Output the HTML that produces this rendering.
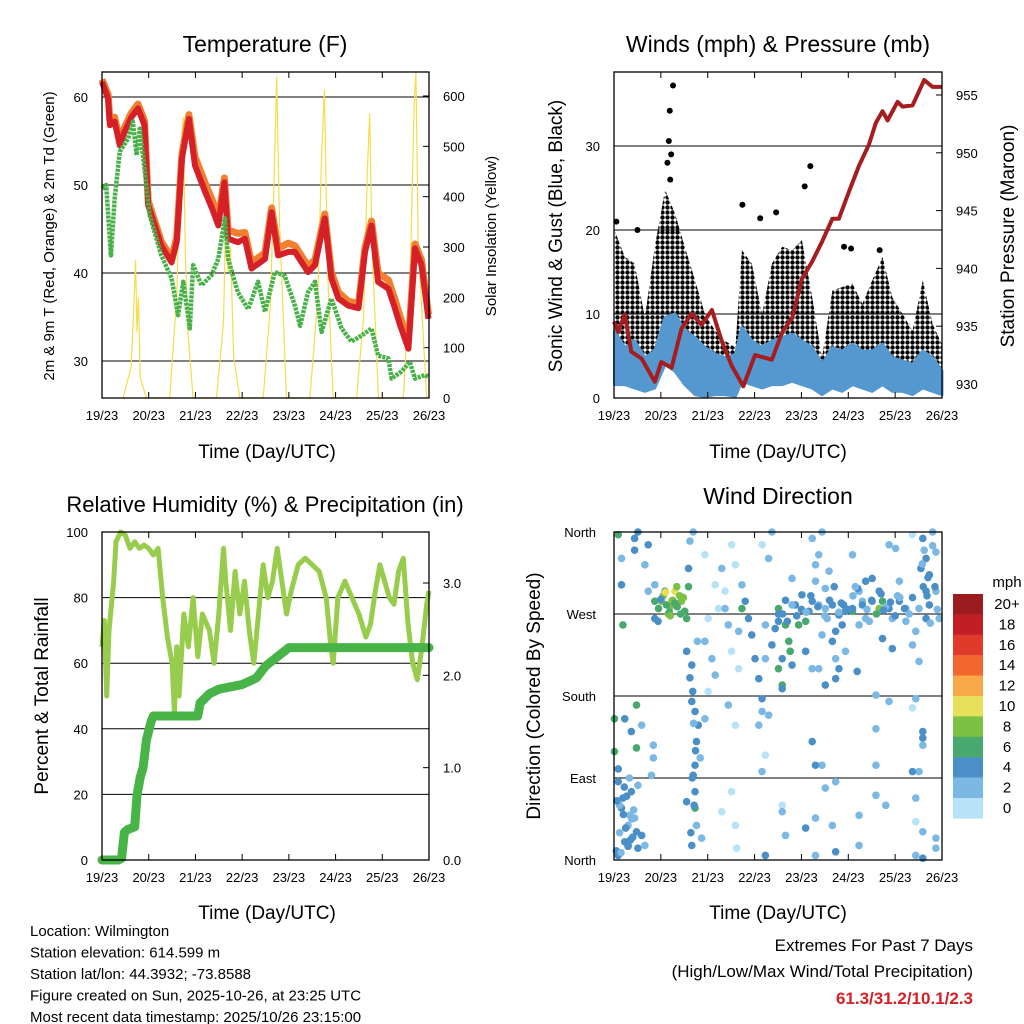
<!DOCTYPE html>
<html><head><meta charset="utf-8"><style>
html,body{margin:0;padding:0;background:#fff}
svg{display:block;font-family:"Liberation Sans",sans-serif}
</style></head><body>
<svg id="s" width="1024" height="1024" viewBox="0 0 1024 1024" xmlns="http://www.w3.org/2000/svg">
<defs><pattern id="dots" width="5" height="5" patternUnits="userSpaceOnUse"><circle cx="2.5" cy="2.5" r="2.2" fill="#000"/></pattern></defs>
</svg>
<script>
// ---------- DATA ----------
const xTickLabels=["19/23","20/23","21/23","22/23","23/23","24/23","25/23","26/23"];
const tempT=[0,0.13,0.17,0.27,0.38,0.48,0.63,0.77,0.91,0.99,1.13,1.27,1.49,1.6,1.71,1.86,1.99,2.21,2.36,2.49,2.62,2.7,2.91,3.06,3.2,3.49,3.63,3.77,3.99,4.13,4.41,4.56,4.77,4.91,5.06,5.27,5.49,5.63,5.77,5.91,6.13,6.27,6.38,6.56,6.7,6.84,6.99];
const temp2m=[61.7,59.8,56.8,57.2,54.5,56,57.7,58.7,56.8,47.7,45.4,43.1,41.2,43.5,53,57.5,52.2,49.2,47.3,45.4,50.3,43.9,43.5,43.9,40.5,41.6,46.9,42,42.4,42.4,40.1,40.9,46.2,39.4,37.1,36.3,36,42.4,45.4,39,38.2,36,34.1,31.4,42.8,40.9,34.8];
const temp9m=[62,60.3,57.3,57.7,55,56.5,58.2,59.2,57.3,48.2,45.9,43.6,41.7,44,53.5,58,53.2,50.2,48.3,46.2,50.8,44.9,44.5,44.6,41.2,42.3,47.4,42.8,43.4,43.1,40.8,41.5,46.7,40.1,37.8,36.8,36.5,42.9,45.9,40,39.2,37,35.1,32.2,43.3,41.5,35.3];
const dewT=[0,0.09,0.19,0.27,0.38,0.56,0.66,0.74,0.81,0.91,1.02,1.27,1.49,1.63,1.74,1.88,1.95,2.13,2.34,2.49,2.63,2.7,2.91,3.13,3.34,3.49,3.7,3.91,4.13,4.24,4.41,4.56,4.7,4.91,5.13,5.34,5.56,5.77,5.91,6.13,6.2,6.41,6.59,6.7,6.91,6.99];
const dewPt=[49.6,50,42,48.4,53.8,55.3,57.2,53.4,56.4,51.9,46.6,42,39.4,35.2,39,33.7,40.9,38.6,39.7,41.6,46.2,41.6,37.8,35.9,39,35.6,40.1,39.7,36.3,34,37.8,39,33.3,37.1,33.7,32.2,32.9,33.7,30.6,30.3,28,28.8,29.9,28,28.4,28.2];
const solarT=[0.45,0.62,0.68,0.72,0.75,0.78,0.82,0.95, 1.45,1.6,1.68,1.74,1.78,1.83,1.95, 2.45,2.6,2.66,2.7,2.75,2.82,2.95, 3.45,3.6,3.68,3.74,3.8,3.95, 4.45,4.62,4.7,4.76,4.83,4.95, 5.45,5.6,5.68,5.73,5.78,5.92, 6.45,6.6,6.68,6.72,6.77,6.95];
const solarV=[0,60,180,274,130,200,40,0, 0,200,480,559,300,140,0, 0,150,417,250,300,80,0, 0,180,420,638,350,0, 0,200,480,612,250,0, 0,160,450,566,300,0, 0,250,580,648,300,0];
const windT=[0.01,0.23,0.44,0.66,0.87,1.09,1.3,1.51,1.73,1.94,2.16,2.37,2.59,2.73,2.94,3.16,3.37,3.59,3.8,4.01,4.23,4.44,4.66,4.87,5.09,5.3,5.51,5.73,5.94,6.16,6.37,6.59,6.8,7.0];
const gustHi=[20,16.8,16,9.6,18,24.8,22,18,14,10,8,6.8,6,17.6,16,10,16,18,17.6,18.8,12,4.8,12.8,13.2,13.6,11.2,14,16.8,12,10,8,14,8.8,6.4];
const gustLo=[4,2.8,4,3.2,4,6,8.8,8,6,4,3.2,1.6,1.6,4,4.8,4,4.8,6,6.8,5.2,4,2,4.8,4,4.8,4,4.8,5.2,4,3.2,2.8,4,3.2,2.8];
const windHi=[8,6,6.8,4.8,5.6,9.6,10,8,7.2,6,5.2,4.8,5.2,8.4,6.8,6,6.8,7.2,7.6,6.8,6,4,6,5.6,6.4,5.6,5.6,6.4,4.8,4.4,4,5.6,4.8,3.2];
const windLo=[1.6,1.6,1.2,0.8,1.2,4,3.2,1.6,0.4,0.2,0.4,0.4,0.2,2,1.6,1.2,1.6,1.6,2,1.6,1.2,0.4,1.2,0.8,1.6,1.2,0.8,1.6,0.8,0.8,0.4,1.2,0.8,0.4];
const gustOutT=[1.26,1.19,1.17,4.19,2.74,4.07,3.12,3.46,4.91,5.06,5.67,1.22,1.14,1.2,0.05,0.5];
const gustOutV=[37.2,34.2,30.6,27.6,23,25.2,21.4,22.1,18,17.8,17.6,29,28,26,21,20];
const presT=[0,0.09,0.23,0.37,0.59,0.87,1.01,1.23,1.44,1.66,1.87,2.09,2.3,2.51,2.76,3.01,3.37,3.59,3.8,4.01,4.23,4.44,4.66,4.8,5.01,5.23,5.44,5.59,5.73,5.84,6.05,6.16,6.37,6.62,6.8,7.0];
const presV=[935.4,934.5,936,932.8,932.2,930.2,931.9,931.4,934.8,936.1,935.1,936.4,933.7,931.6,929.8,932.5,932.1,934.5,935.7,939.1,940.6,942.3,944.3,944.3,946.6,948.9,950.7,952.6,953.6,952.8,954.4,954,954.1,956.3,955.7,955.7];
const rhT=[0,0.05,0.1,0.15,0.25,0.3,0.4,0.5,0.6,0.7,0.8,0.9,1.0,1.1,1.2,1.3,1.4,1.5,1.55,1.6,1.65,1.75,1.85,1.95,2.05,2.15,2.3,2.4,2.5,2.6,2.65,2.75,2.85,2.95,3.05,3.15,3.25,3.35,3.45,3.55,3.65,3.75,3.85,3.95,4.05,4.2,4.35,4.5,4.65,4.8,4.9,4.95,5.05,5.2,5.35,5.5,5.65,5.75,5.85,5.95,6.05,6.15,6.25,6.35,6.45,6.55,6.65,6.75,6.85,6.95,7.0];
const rhV=[65,73,50,70,85,97,100,99,95,97,95,96,95,93,95,80,68,60,45,65,50,75,65,80,62,75,70,60,75,95,85,70,88,75,85,70,60,75,90,80,85,95,85,75,82,90,92,90,88,80,65,60,80,85,80,75,68,72,82,90,85,80,78,88,92,72,60,55,65,78,82];
const pcpT=[0,0.35,0.42,0.48,0.55,0.7,0.75,0.82,0.88,0.95,1.05,1.1,2.05,2.1,2.3,2.5,3.0,3.3,3.5,3.75,4.0,7.0];
const pcpV=[0,0,0.02,0.3,0.33,0.36,0.7,0.9,1.0,1.3,1.5,1.56,1.56,1.7,1.8,1.85,1.9,1.97,2.1,2.2,2.3,2.3];
const dirT=[0.09,0.23,0.3,0.16,0.37,0.51,0.09,0.44,0.59,0.3,0.66,0.8,0.51,0.19,0.34,0.48,
0.01,0.01,0.48,0.48,0.59,0.23,0.37,0.09,0.84,0.84,
0.09,0.44,0.51,0.16,0.16,0.73,0.66,0.73,0.87,0.44,
0.87,1.01,1.23,1.3,1.16,1.44,1.51,1.59,1.34,0.94,1.09,1.55,0.87,0.19,1.2,1.4,
1.59,1.55,1.66,1.66,1.73,1.8,1.76,1.84,1.73,1.69,1.73,1.55,1.73,1.76,1.66,1.87,1.69,1.62,
1.94,2.16,2.01,1.94,2.09,2.16,2.01,2.23,2.37,2.44,2.51,2.59,2.3,2.51,2.66,2.44,2.59,1.94,2.37,2.73,2.8,2.66,2.73,2.87,2.94,3.01,3.09,3.16,3.16,3.3,3.09,3.23,3.3,3.16,3.37,2.51,2.59,2.62,2.3,3.23,3.16,
3.44,3.51,3.66,3.73,3.76,3.59,3.51,3.59,3.8,3.87,3.94,4.09,4.16,4.01,4.23,4.37,4.09,4.23,4.44,4.37,3.51,3.37,3.23,3.8,4.23,4.37,4.44,4.3,4.3,4.23,4.44,4.3,4.09,4.3,4.3,3.59,3.59,3.66,3.23,3.59,3.66,3.51,
4.66,4.8,4.94,4.73,4.87,5.09,5.23,5.37,5.51,5.66,5.73,5.87,5.51,5.37,5.3,4.51,4.59,4.66,4.73,4.8,4.73,4.94,4.51,4.51,5.09,5.87,5.73,5.94,5.94,6.09,6.23,6.37,6.09,6.01,6.23,5.66,5.09,5.23,5.19,5.59,5.87,5.59,5.59,5.59,5.8,4.73,4.51,4.73,4.66,5.23,5.23,
6.59,6.66,6.73,6.87,6.66,6.51,6.87,6.94,6.66,6.44,6.37,6.51,6.73,6.8,6.37,6.59,6.59,6.59,6.51,6.44,6.44,6.59,6.87,6.87,6.44,6.59,6.37,6.44,6.37,
0.05,0.12,0.2,0.27,0.33,0.4,0.12,0.22,0.3,0.38,0.25,0.15,0.06,0.42,0.35,
0.95,1.05,1.12,1.18,1.25,1.35,1.42,1.48,1.1,1.2,1.3,1.0,
1.62,1.68,1.7,1.74,1.67,1.71,1.78,1.64,
3.6,3.7,3.8,3.9,4.0,4.1,4.2,4.35,4.5,4.6,4.7,4.8,4.9,5.0,5.1,5.2,5.3,5.4,5.5,5.6,5.7,5.8,5.9,6.0,6.1,6.2,6.3,4.55,4.85,5.15,5.45,5.75,6.05,
6.55,6.6,6.62,6.68,6.7,6.75,6.8,6.85,6.9,6.58];
const dirDeg=[5,20,38,57,75,82,86,46,27,16,16,93,13,68,49,31,
155,119,170,123,148,155,141,100,126,112,
357,353,360,331,302,346,324,295,302,340,
284,284,284,295,270,284,273,300,300,262,295,265,265,258,278,290,
320,229,214,174,163,148,130,112,104,93,75,64,57,38,16,24,360,350,
335,302,265,240,221,203,185,276,295,258,346,324,320,229,210,170,148,155,276,302,284,251,276,265,247,221,199,177,163,159,148,221,331,346,360,75,38,13,53,115,97,
254,276,258,240,229,221,210,192,214,280,258,262,273,291,284,280,229,210,247,210,262,236,258,309,353,335,360,324,306,130,104,46,35,5,104,60,53,27,5,188,285,270,
280,269,273,251,258,273,295,306,309,295,284,276,284,265,284,298,317,240,221,210,199,229,192,276,335,346,243,232,265,284,276,288,306,342,262,276,276,258,207,181,174,144,104,71,60,86,79,9,38,49,16,
353,331,313,338,295,276,295,265,265,251,236,218,280,360,357,141,134,126,97,68,42,31,24,13,5,2,167,177,97,
10,30,50,70,90,25,60,80,15,45,35,8,65,55,22,
276,290,280,272,285,278,270,288,294,268,282,286,
200,185,150,120,90,60,240,30,
270,262,280,268,275,272,290,278,268,285,300,272,280,275,290,298,280,275,285,270,292,278,283,268,288,276,270,265,282,300,262,274,290,
320,300,340,290,310,260,345,300,275,325];
const dirSpd=[4,4,2,4,4,2,4,2,4,4,2,2,4,4,2,4,
6,6,6,6,2,4,4,4,2,2,
6,4,4,2,4,4,2,2,2,4,
6,8,10,10,8,8,6,6,8,4,6,6,4,6,9,8,
4,4,4,4,4,4,4,2,4,4,4,4,6,2,4,2,2,2,
0,0,0,2,2,2,0,0,0,2,0,0,2,0,0,2,0,2,2,2,4,2,6,4,4,4,4,4,2,2,2,2,2,0,2,0,0,0,0,0,2,
4,6,6,6,6,4,6,6,4,4,6,6,4,4,4,2,4,2,2,2,4,4,2,2,2,2,2,2,2,4,2,2,4,2,4,0,2,2,4,4,4,4,
4,4,4,4,4,6,2,4,4,4,6,4,4,2,2,2,2,4,2,4,4,2,4,2,2,2,4,4,2,4,2,4,2,2,2,8,4,2,4,2,2,2,2,2,2,2,2,4,2,2,2,
4,4,4,2,4,2,2,2,4,2,2,2,4,2,0,4,4,2,2,2,0,2,2,2,2,4,0,2,4,
4,2,4,4,2,4,2,4,4,2,4,2,4,2,4,
6,8,6,6,8,6,6,8,10,8,6,4,
4,4,2,4,4,4,2,4,
4,4,2,4,4,2,4,4,2,4,4,2,4,4,2,4,4,2,4,6,4,2,4,4,2,4,2,2,4,2,2,4,2,
4,4,2,4,4,2,2,4,2,2];
const cbLabels=["20+","18","16","14","12","10","8","6","4","2","0"];
const cbColors=["#9b1c1f","#c11f26","#e03a2a","#f2652c","#f8a847","#e6e05a","#7cc046","#48a86e","#4a8fc7","#7bb8e3","#b8e2f7"];

// ---------- HELPERS ----------
const NS="http://www.w3.org/2000/svg";
const svg=document.getElementById('s');
function mk(tag,attrs,parent){const e=document.createElementNS(NS,tag);for(const k in attrs)e.setAttribute(k,attrs[k]);(parent||svg).appendChild(e);return e;}
function txt(str,x,y,size,anchor,parent,extra){const e=mk('text',Object.assign({x:x,y:y,'font-size':size,'text-anchor':anchor||'middle',fill:'#000'},extra||{}),parent);e.textContent=str;return e;}
function lin(d0,d1,p0,p1){return v=>p0+(v-d0)*(p1-p0)/(d1-d0);}
function pathD(xs,ys,fx,fy){return xs.map((t,i)=>(i?'L':'M')+fx(t).toFixed(1)+','+fy(ys[i]).toFixed(1)).join(' ');}
function bandD(xs,hi,lo,fx,fy){let d=xs.map((t,i)=>(i?'L':'M')+fx(t).toFixed(1)+','+fy(hi[i]).toFixed(1)).join(' ');for(let i=xs.length-1;i>=0;i--)d+='L'+fx(xs[i]).toFixed(1)+','+fy(lo[i]).toFixed(1);return d+'Z';}
function spdColor(s){let idx=Math.min(10,Math.floor(s/2));return cbColors[10-idx];}

function frame(g,X0,X1,Y0,Y1,fx){
  mk('rect',{x:X0,y:Y0,width:X1-X0,height:Y1-Y0,fill:'none',stroke:'#000','stroke-width':1.3},g);
  xTickLabels.forEach((l,i)=>{const x=fx(i);
    mk('line',{x1:x,x2:x,y1:Y1,y2:Y1-6,stroke:'#000'},g);
    mk('line',{x1:x,x2:x,y1:Y0,y2:Y0+6,stroke:'#000'},g);
    const t=txt(l,x,Y1+22,13,'middle',g);
    
    
  });
}
function hgrid(g,X0,X1,y){mk('line',{x1:X0,x2:X1,y1:y,y2:y,stroke:'#000','stroke-width':1},g);}

// ---------- PANEL 1 ----------
(function(){
 const g=mk('g',{});
 const X0=102,X1=429,Y0=72,Y1=398;
 const fx=lin(0,7,X0,X1), fy=lin(60,30,97,361), fs=lin(0,600,398,96);
 [30,40,50,60].forEach(v=>{hgrid(g,X0,X1,fy(v));const t=txt(String(v),X0-14,fy(v)+5,13,'end',g);});
 [0,100,200,300,400,500,600].forEach(v=>{mk('line',{x1:X1,x2:X1-6,y1:fs(v),y2:fs(v),stroke:'#000'},g);const t=txt(String(v),X1+14,fs(v)+5,13,'start',g);});
 const sol=mk('path',{d:pathD(solarT,solarV,fx,fs),fill:'none',stroke:'#f7dc4a','stroke-width':1.2},g);
 
 const o=mk('path',{d:pathD(tempT,temp9m,fx,fy),fill:'none',stroke:'#f08030','stroke-width':7,'stroke-linejoin':'round'},g);
 
 const r=mk('path',{d:pathD(tempT,temp2m,fx,fy),fill:'none',stroke:'#d42026','stroke-width':6,'stroke-linejoin':'round'},g);
 
 const gr=mk('path',{d:pathD(dewT,dewPt,fx,fy),fill:'none',stroke:'#48b048','stroke-width':4.5,'stroke-dasharray':'3 1','stroke-linejoin':'round'},g);
 
 frame(g,X0,X1,Y0,Y1,i=>fx(i));
 let t=txt('Temperature (F)',265,52,23,'middle',g);
 t=txt('Time (Day/UTC)',267,458,19,'middle',g);
 t=txt('2m & 9m T (Red, Orange) & 2m Td (Green)',0,0,15,'middle',g,{transform:'translate(54,236) rotate(-90)'});
 t=txt('Solar Insolation (Yellow)',0,0,15,'middle',g,{transform:'translate(496,236) rotate(-90)'});
})();

// ---------- PANEL 2 ----------
(function(){
 const g=mk('g',{});
 const X0=614,X1=942,Y0=72,Y1=398;
 const fx=lin(0,7,X0,X1), fy=lin(0,10,398,314), fp=lin(930,955,384,95);
 [0,10,20,30].forEach(v=>{if(v>0)hgrid(g,X0,X1,fy(v));const t=txt(String(v),X0-14,fy(v)+5,13,'end',g);});
 [930,935,940,945,950,955].forEach(v=>{mk('line',{x1:X1,x2:X1-6,y1:fp(v),y2:fp(v),stroke:'#000'},g);const t=txt(String(v),X1+14,fp(v)+5,13,'start',g);});
 const gb=mk('path',{d:bandD(windT,gustHi,gustLo,fx,fy),fill:'url(#dots)',stroke:'none'},g);
 
 gustOutT.forEach((tt,i)=>{const c=mk('circle',{cx:fx(tt),cy:fy(gustOutV[i]),r:3,fill:'#000'},g);
  
  });
 const wb=mk('path',{d:bandD(windT,windHi,windLo,fx,fy),fill:'#5598d0',stroke:'#5598d0','stroke-width':3,'stroke-linejoin':'round'},g);
 
 const p=mk('path',{d:pathD(presT,presV,fx,fp),fill:'none',stroke:'#a51d1f','stroke-width':4,'stroke-linejoin':'round'},g);
 
 frame(g,X0,X1,Y0,Y1,i=>fx(i));
 let t=txt('Winds (mph) & Pressure (mb)',778,52,23,'middle',g);
 t=txt('Time (Day/UTC)',778,458,19,'middle',g);
 t=txt('Sonic Wind & Gust (Blue, Black)',0,0,19,'middle',g,{transform:'translate(562,236) rotate(-90)'});
 t=txt('Station Pressure (Maroon)',0,0,19,'middle',g,{transform:'translate(1014,236) rotate(-90)'});
})();

// ---------- PANEL 3 ----------
(function(){
 const g=mk('g',{});
 const X0=102,X1=429,Y0=532,Y1=860;
 const fx=lin(0,7,X0,X1), fy=lin(0,100,860,532), fp=lin(0,3,860,583);
 [0,20,40,60,80,100].forEach(v=>{if(v>0&&v<100)hgrid(g,X0,X1,fy(v));const t=txt(String(v),X0-14,fy(v)+5,13,'end',g);});
 [0,1,2,3].forEach(v=>{mk('line',{x1:X1,x2:X1-6,y1:fp(v),y2:fp(v),stroke:'#000'},g);const t=txt(v.toFixed(1),X1+14,fp(v)+5,13,'start',g);});
 const rh=mk('path',{d:pathD(rhT,rhV,fx,fy),fill:'none',stroke:'#98cc4c','stroke-width':5,'stroke-linejoin':'round'},g);
 
 const pc=mk('path',{d:pathD(pcpT,pcpV,fx,fp),fill:'none',stroke:'#48b448','stroke-width':9,'stroke-linejoin':'round','stroke-linecap':'round'},g);
 
 frame(g,X0,X1,Y0,Y1,i=>fx(i));
 let t=txt('Relative Humidity (%) & Precipitation (in)',265,512,22,'middle',g);
 t=txt('Time (Day/UTC)',267,919,19,'middle',g);
 t=txt('Percent & Total Rainfall',0,0,19,'middle',g,{transform:'translate(48,696) rotate(-90)'});
})();

// ---------- PANEL 4 ----------
(function(){
 const g=mk('g',{});
 const X0=614,X1=942,Y0=532,Y1=860;
 const fx=lin(0,7,X0,X1), fy=lin(0,360,860,532);
 const dl=['North','East','South','West','North'];
 [0,90,180,270,360].forEach((v,i)=>{if(v>0&&v<360)hgrid(g,X0,X1,fy(v));const t=txt(dl[i],X0-18,fy(v)+5,13,'end',g);});
 dirT.forEach((tt,i)=>{const c=mk('circle',{cx:fx(tt),cy:fy(dirDeg[i]),r:3.8,fill:spdColor(dirSpd[i])},g);
  
  });
 frame(g,X0,X1,Y0,Y1,i=>fx(i));
 let t=txt('Wind Direction',778,504,23,'middle',g);
 t=txt('Time (Day/UTC)',778,919,19,'middle',g);
 t=txt('Direction (Colored By Speed)',0,0,19,'middle',g,{transform:'translate(540,696) rotate(-90)'});
 const cb=mk('g',{},g);
 cbColors.forEach((c,i)=>{const r=mk('rect',{x:953,y:594+i*20.4,width:30,height:20.6,fill:c},cb);
  
  
  const l=txt(cbLabels[i],1007,594+i*20.4+15,15,'middle',cb);
  
  });
 t=txt('mph',1007,587,15,'middle',cb);
})();

// ---------- Footer ----------
(function(){
 const g=mk('g',{});
 ['Location: Wilmington','Station elevation: 614.599 m','Station lat/lon: 44.3932; -73.8588','Figure created on Sun, 2025-10-26, at 23:25 UTC','Most recent data timestamp: 2025/10/26 23:15:00'].forEach((s,i)=>{
  const t=txt(s,30,936+i*21.5,15,'start',g);
  
  });
 const e=mk('g',{});
 let t=txt('Extremes For Past 7 Days',973,951,17,'end',e);
 t=txt('(High/Low/Max Wind/Total Precipitation)',973,977,17,'end',e);
 t=txt('61.3/31.2/10.1/2.3',973,1004,17,'end',e,{fill:'#d42026','font-weight':'bold'});
})();
</script>
</body></html>
